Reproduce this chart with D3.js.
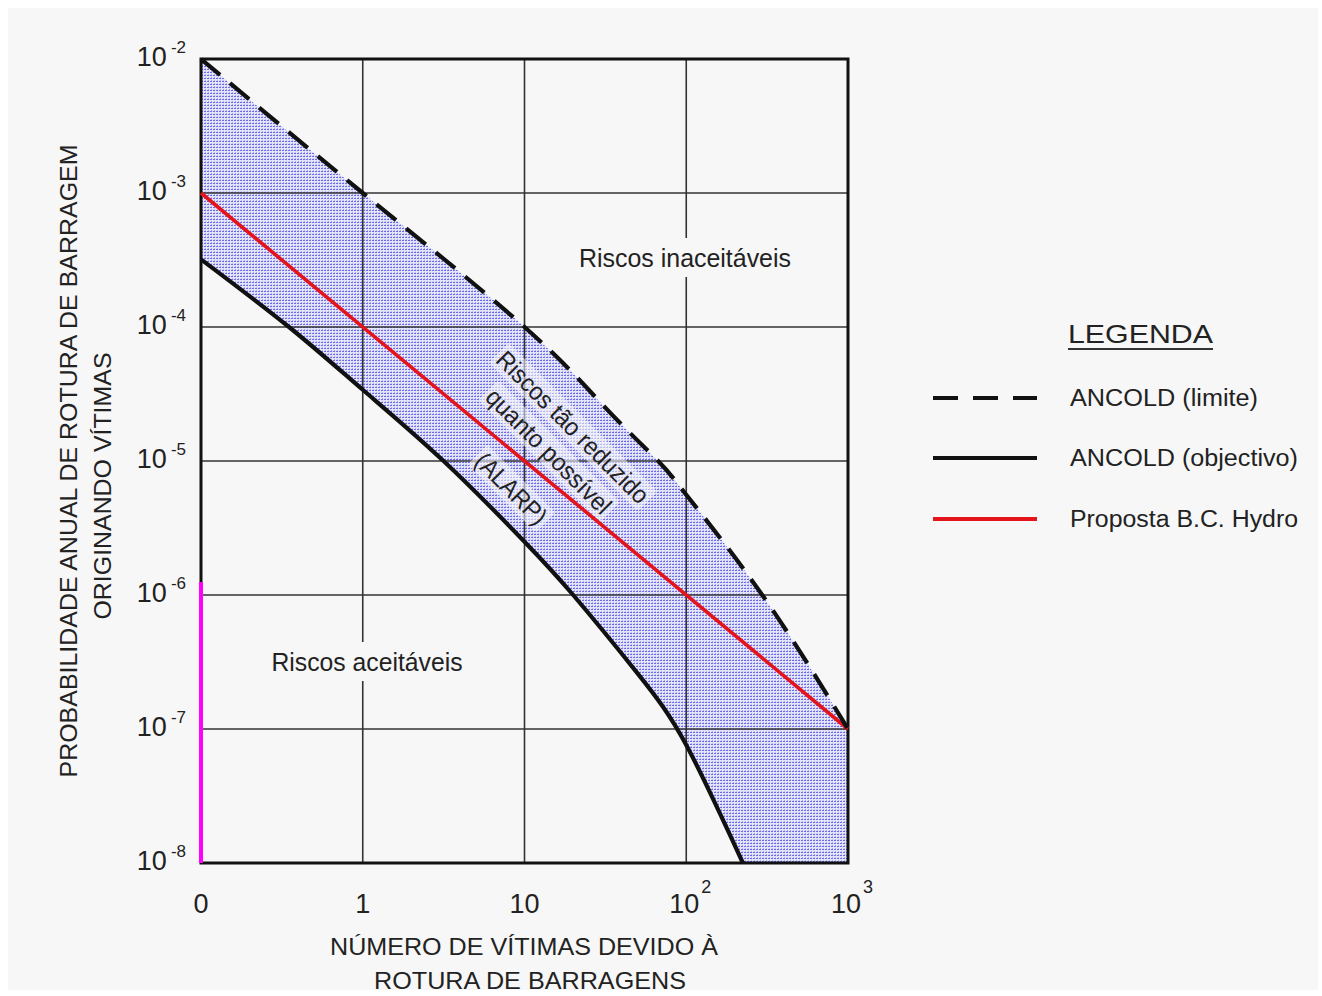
<!DOCTYPE html>
<html>
<head>
<meta charset="utf-8">
<script src="https://cdn.jsdelivr.net/npm/d3@7"></script>
<style>
  html, body { margin: 0; padding: 0; background: #ffffff; }
  svg { display: block; }
  text { font-family: "Liberation Sans", Arial, sans-serif; fill: #222; }
</style>
</head>
<body>
<svg id="chart" width="1322" height="996"></svg>
<script>
// Axis ticks (number of victims on a log scale, "0" drawn at the 0.1 position)
const xTicks = [0.1, 1, 10, 100, 1000];
const xTickBase = ["0", "1", "10", "10", "10"];
const xTickExp = ["", "", "", "2", "3"];

// Annual probability ticks
const yTicks = [1e-2, 1e-3, 1e-4, 1e-5, 1e-6, 1e-7, 1e-8];
const yTickExp = ["-2", "-3", "-4", "-5", "-6", "-7", "-8"];

// ANCOLD limit curve (dashed)
const limiteN = [0.1, 1, 10, 31.6, 67, 100, 295, 1000];
const limiteP = [1e-2, 1e-3, 1e-4, 2.5e-5, 1e-5, 5.6e-6, 1e-6, 1e-7];

// ANCOLD objective curve (solid)
const objectivoN = [0.1, 0.35, 1, 3.16, 10, 20, 50, 100, 224];
const objectivoP = [3.2e-4, 1e-4, 3.4e-5, 1e-5, 2.5e-6, 1e-6, 2.6e-7, 7.6e-8, 1e-8];

// B.C. Hydro proposal (straight line)
const hydroN = [0.1, 1000];
const hydroP = [1e-3, 1e-7];

// Vertical marker on the left edge
const markN = [0.1, 0.1];
const markP = [1.25e-6, 1e-8];

const legendLabels = ["ANCOLD (limite)", "ANCOLD (objectivo)", "Proposta B.C. Hydro"];

const zip = (a, b) => a.map((v, i) => [v, b[i]]);

const svg = d3.select("#chart");
const bg = "#f7f7f7";

svg.append("rect").attr("x", 8).attr("y", 8).attr("width", 1310).attr("height", 982).attr("fill", bg);

const x = d3.scaleLog().domain([0.1, 1000]).range([201, 848]);
const y = d3.scaleLog().domain([1e-8, 1e-2]).range([863, 59]);

// dotted fill pattern
const defs = svg.append("defs");
const pat = defs.append("pattern").attr("id", "dots")
  .attr("patternUnits", "userSpaceOnUse").attr("width", 3).attr("height", 3);
pat.append("rect").attr("width", 3).attr("height", 3).attr("fill", "#e4e4f9");
pat.append("rect").attr("x", 0).attr("y", 0).attr("width", 2).attr("height", 1).attr("fill", "#6a6aea");
pat.append("rect").attr("x", 1).attr("y", 2).attr("width", 1).attr("height", 1).attr("fill", "#b0b0f2");

const line = d3.line().x(d => x(d[0])).y(d => y(d[1])).curve(d3.curveNatural);

const limite = zip(limiteN, limiteP);
const objectivo = zip(objectivoN, objectivoP);

// band between the two ANCOLD curves, closed along the bottom-right corner
const upperPath = line(limite);
const lowerPath = line(objectivo.slice().reverse()).replace(/^M/, "L");
const cornerX = x(limiteN[limiteN.length - 1]);
const bandPath = upperPath + "L" + cornerX + "," + y(1e-8) + lowerPath + "Z";
svg.append("path").attr("d", bandPath).attr("fill", "url(#dots)");

// grid
const grid = svg.append("g").attr("stroke", "#333").attr("stroke-width", 1.6);
grid.selectAll("line.v").data(xTicks.slice(1, -1)).join("line")
  .attr("x1", d => x(d)).attr("x2", d => x(d)).attr("y1", y(1e-2)).attr("y2", y(1e-8));
grid.selectAll("line.h").data(yTicks.slice(1, -1)).join("line")
  .attr("x1", x(0.1)).attr("x2", x(1000)).attr("y1", d => y(d)).attr("y2", d => y(d));

// region labels with background boxes
function boxedLabel(txt, cx, base, w, size) {
  const g = svg.append("g");
  g.append("rect").attr("x", cx - w / 2 - 6).attr("y", base - size - 4)
    .attr("width", w + 12).attr("height", size + 14).attr("fill", bg);
  g.append("text").attr("x", cx).attr("y", base).attr("text-anchor", "middle")
    .attr("font-size", size).attr("textLength", w).attr("lengthAdjust", "spacingAndGlyphs")
    .text(txt);
}
boxedLabel("Riscos inaceitáveis", 685, 267, 212, 25);
boxedLabel("Riscos aceitáveis", 367, 671, 191, 25);

// ALARP label, rotated along the band
const alarp = svg.append("g").attr("transform", "translate(549,451) rotate(45)");
const alarpLines = [["Riscos tão reduzido", -34, 204], ["quanto possível", 0, 166], ["(ALARP)", 53, 90]];
alarpLines.forEach(([t, ly, w]) => {
  alarp.append("rect").attr("x", -w / 2 - 3).attr("y", ly - 14).attr("width", w + 6).attr("height", 28)
    .attr("fill", bg).attr("opacity", 0.55).attr("rx", 4);
});
alarpLines.forEach(([t, ly, w]) => {
  alarp.append("text").attr("x", 0).attr("y", ly).attr("dy", "0.36em")
    .attr("text-anchor", "middle").attr("font-size", 25)
    .attr("textLength", w).attr("lengthAdjust", "spacingAndGlyphs").text(t);
});

// frame
svg.append("rect").attr("x", x(0.1)).attr("y", y(1e-2))
  .attr("width", x(1000) - x(0.1)).attr("height", y(1e-8) - y(1e-2))
  .attr("fill", "none").attr("stroke", "#111").attr("stroke-width", 3);

// curves
svg.append("path").attr("d", line(objectivo)).attr("fill", "none")
  .attr("stroke", "#111").attr("stroke-width", 4.2);
svg.append("path").attr("d", line(zip(hydroN, hydroP))).attr("fill", "none")
  .attr("stroke", "#e3141c").attr("stroke-width", 3.6);
svg.append("path").attr("d", line(limite)).attr("fill", "none")
  .attr("stroke", "#111").attr("stroke-width", 4.2).attr("stroke-dasharray", "25,13");
svg.append("path").attr("d", d3.line().x(d => x(d[0])).y(d => y(d[1]))(zip(markN, markP)))
  .attr("stroke", "#ff00ff").attr("stroke-width", 4);

// y tick labels
const yl = svg.append("g");
yTicks.forEach((t, i) => {
  const tx = yl.append("text").attr("x", 186).attr("y", y(t) + 7).attr("text-anchor", "end");
  tx.append("tspan").attr("font-size", 27).text("10");
  tx.append("tspan").attr("font-size", 17).attr("dx", 4).attr("dy", -13).text(yTickExp[i]);
});

// x tick labels
const xl = svg.append("g");
xTicks.forEach((t, i) => {
  xl.append("text").attr("x", x(t) - (xTickExp[i] ? 2 : 0)).attr("y", 913)
    .attr("text-anchor", "middle").attr("font-size", 27).text(xTickBase[i]);
  if (xTickExp[i]) {
    xl.append("text").attr("x", x(t) + 15).attr("y", 893)
      .attr("font-size", 18).text(xTickExp[i]);
  }
});

// axis titles
svg.append("text").attr("x", 524).attr("y", 955).attr("text-anchor", "middle")
  .attr("font-size", 24).attr("textLength", 388).attr("lengthAdjust", "spacingAndGlyphs")
  .text("NÚMERO DE VÍTIMAS DEVIDO À");
svg.append("text").attr("x", 530).attr("y", 989).attr("text-anchor", "middle")
  .attr("font-size", 24).attr("textLength", 312).attr("lengthAdjust", "spacingAndGlyphs")
  .text("ROTURA DE BARRAGENS");
svg.append("text").attr("transform", "translate(77,461) rotate(-90)").attr("text-anchor", "middle")
  .attr("font-size", 24).attr("textLength", 633).attr("lengthAdjust", "spacingAndGlyphs")
  .text("PROBABILIDADE ANUAL DE ROTURA DE BARRAGEM");
svg.append("text").attr("transform", "translate(111,486) rotate(-90)").attr("text-anchor", "middle")
  .attr("font-size", 24).attr("textLength", 267).attr("lengthAdjust", "spacingAndGlyphs")
  .text("ORIGINANDO VÍTIMAS");

// legend
const lg = svg.append("g");
lg.append("text").attr("x", 1068).attr("y", 343).attr("font-size", 26)
  .attr("textLength", 145).attr("lengthAdjust", "spacingAndGlyphs").text("LEGENDA");
lg.append("line").attr("x1", 1068).attr("x2", 1213).attr("y1", 349).attr("y2", 349)
  .attr("stroke", "#333").attr("stroke-width", 2);
const legY = [398, 458, 519];
const legStroke = ["#111", "#111", "#e3141c"];
const legDash = ["25,15", null, null];
const legW = [188, 228, 228];
legendLabels.forEach((lab, i) => {
  lg.append("line").attr("x1", 933).attr("x2", 1037).attr("y1", legY[i]).attr("y2", legY[i])
    .attr("stroke", legStroke[i]).attr("stroke-width", 4.2).attr("stroke-dasharray", legDash[i]);
  lg.append("text").attr("x", 1070).attr("y", legY[i] + 8).attr("font-size", 23)
    .attr("textLength", legW[i]).attr("lengthAdjust", "spacingAndGlyphs").text(lab);
});
</script>
</body>
</html>
